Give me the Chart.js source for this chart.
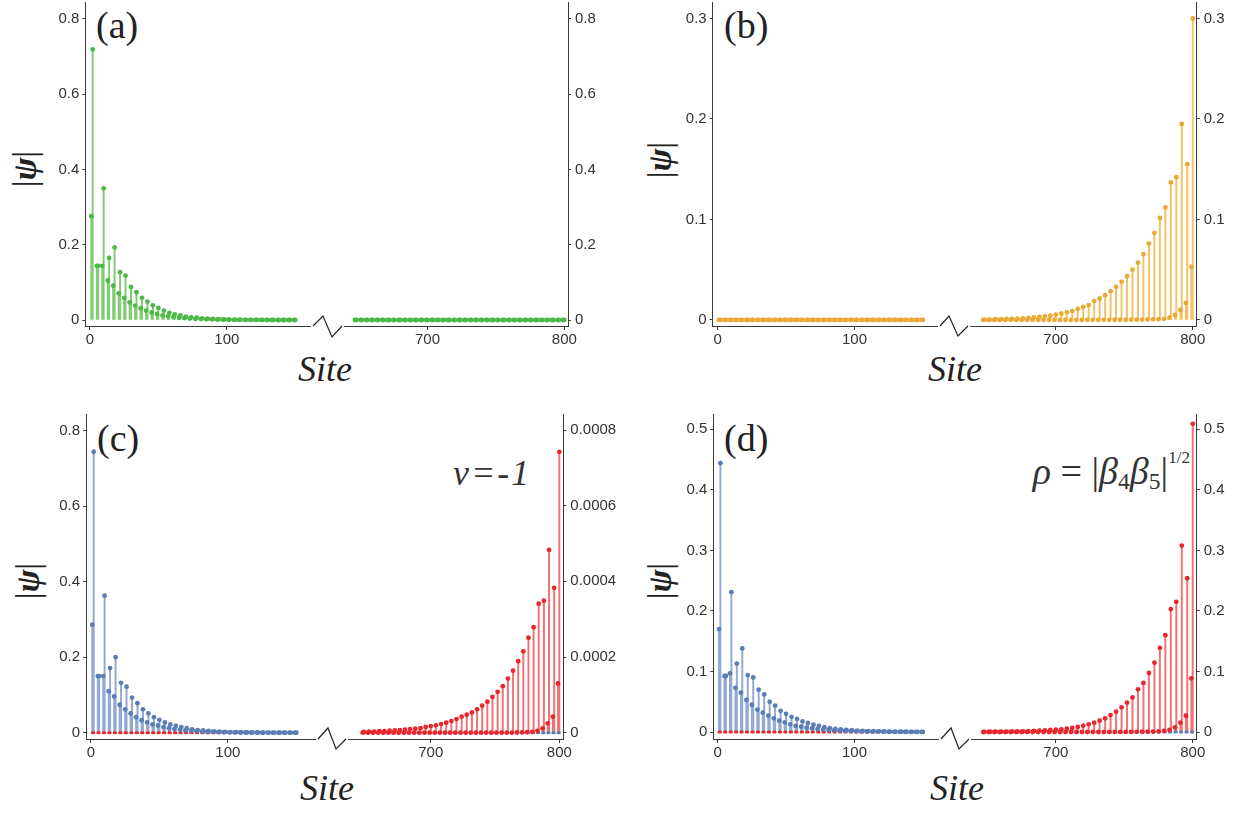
<!DOCTYPE html>
<html>
<head>
<meta charset="utf-8">
<script src="https://cdn.jsdelivr.net/npm/chart.js@4.4.0/dist/chart.umd.min.js"></script>
<style>
body { margin: 0; background: #fff; width: 1248px; height: 813px; position: relative; overflow: hidden; }
.box { position: absolute; }
.txt { position: absolute; font-family: "Liberation Serif", "DejaVu Serif", serif; color: #222; line-height: 1; white-space: nowrap; }
.tag { font-size: 38px; }
.site { font-size: 36px; font-style: italic; width: 120px; text-align: center; }
.psi { font-size: 34px; transform: translate(-50%, -50%) rotate(-90deg); }
.note { font-size: 34px; font-style: italic; color: #333; }
#breaks { position: absolute; left: 0; top: 0; }
</style>
</head>
<body>

<svg id="breaks" width="1248" height="813">
  <polyline points="313,326 323,316 332,337 342,326" fill="none" stroke="#222" stroke-width="1.2"/>
  <polyline points="940,326 949,316 958,336 968,326" fill="none" stroke="#222" stroke-width="1.2"/>
  <polyline points="318,739 328,728 336,749 346,739" fill="none" stroke="#222" stroke-width="1.2"/>
  <polyline points="941,739 951,728 959,749 969,739" fill="none" stroke="#222" stroke-width="1.2"/>
</svg>

<div class="txt tag" style="left:96px;top:6px">(a)</div>
<div class="txt tag" style="left:724px;top:6px">(b)</div>
<div class="txt tag" style="left:97px;top:419px">(c)</div>
<div class="txt tag" style="left:724px;top:419px">(d)</div>

<div class="txt psi" style="left:25px;top:169px">|<b><i>ψ</i></b>|</div>
<div class="txt psi" style="left:660px;top:160px">|<b><i>ψ</i></b>|</div>
<div class="txt psi" style="left:28px;top:581px">|<b><i>ψ</i></b>|</div>
<div class="txt psi" style="left:660px;top:581px">|<b><i>ψ</i></b>|</div>

<div class="txt site" style="left:265px;top:351px">Site</div>
<div class="txt site" style="left:895px;top:351px">Site</div>
<div class="txt site" style="left:267px;top:770px">Site</div>
<div class="txt site" style="left:897px;top:770px">Site</div>

<div class="txt note" style="left:453px;top:455px;font-size:36px;letter-spacing:2px">ν=-1</div>
<div class="txt note" style="right:58px;top:449px;font-size:38px"><i>ρ</i><span style="font-style:normal"> = |</span><i>β</i><span style="font-style:normal;font-size:0.62em;vertical-align:-0.25em">4</span><i>β</i><span style="font-style:normal;font-size:0.62em;vertical-align:-0.25em">5</span><span style="font-style:normal">|</span><span style="font-style:normal;font-size:0.45em;vertical-align:1.2em">1/2</span></div>

<script>
// sites shown on each side of the axis break
const leftSites = [1,2,5,6,9,10,13,14,17,18,21,22,25,26,29,30,33,34,37,38,41,42,45,46,49,50,53,54,57,58,61,62,65,66,69,70,73,74,
  77,78,81,82,85,86,89,90,93,94,97,98,101,102,105,106,109,110,113,114,117,118,121,122,125,126,129,130,133,134,137,138,141,142,145,146,149,150];
const rightSites = [647,648,651,652,655,656,659,660,663,664,667,668,671,672,675,676,679,680,683,684,687,688,691,692,695,696,699,700,
  703,704,707,708,711,712,715,716,719,720,723,724,727,728,731,732,735,736,739,740,743,744,747,748,751,752,755,756,759,760,763,764,
  767,768,771,772,775,776,779,780,783,784,787,788,791,792,795,796,799,800];

// series that sit on the baseline
const zerosLeft = [0,0,0,0,0,0,0,0,0,0,0,0,0,0,0,0,0,0,0,0,0,0,0,0,0,0,0,0,0,0,0,0,0,0,0,0,0,0,
  0,0,0,0,0,0,0,0,0,0,0,0,0,0,0,0,0,0,0,0,0,0,0,0,0,0,0,0,0,0,0,0,0,0,0,0,0,0];
const zerosRight = [0,0,0,0,0,0,0,0,0,0,0,0,0,0,0,0,0,0,0,0,0,0,0,0,0,0,0,0,0,0,0,0,0,0,0,0,0,0,0,
  0,0,0,0,0,0,0,0,0,0,0,0,0,0,0,0,0,0,0,0,0,0,0,0,0,0,0,0,0,0,0,0,0,0,0,0,0,0,0];

// (a) left edge state
const aLeft = [0.276,0.719, 0.144,0.144, 0.144,0.350, 0.105,0.165, 0.091,0.193, 0.071,0.127, 0.059,0.118, 0.047,0.088, 0.038,0.074, 0.031,0.059,
  0.025,0.049, 0.020,0.039, 0.016,0.032, 0.012,0.025, 0.010,0.019, 0.008,0.015, 0.006,0.012, 0.005,0.009, 0.004,0.007, 0.003,0.006,
  0.0025,0.0045, 0.002,0.0035, 0.0015,0.0028, 0.0012,0.0022, 0.001,0.0017, 0.0008,0.0013, 0.0006,0.001, 0.0005,0.0008, 0.0004,0.0006, 0.0003,0.0005,
  0.0002,0.0004, 0.0002,0.0003, 0.0001,0.0002, 0.0001,0.0002, 0.0001,0.0001, 0,0.0001, 0,0, 0,0];

// (b) right edge state
const bRight = [0,0.0004, 0,0.0004, 0,0.0007, 0,0.0007, 0,0.001, 0,0.001, 0,0.0013, 0,0.0016, 0,0.002, 0,0.0026,
  0,0.003, 0,0.0036, 0,0.0043, 0,0.0053, 0,0.0063, 0,0.0076, 0,0.0089, 0,0.0109, 0,0.0129, 0,0.0148,
  0.0001,0.0188, 0.0001,0.0214, 0.0001,0.0247, 0.0001,0.0287, 0.0002,0.033, 0.0002,0.038, 0.0002,0.0435, 0.0003,0.050, 0.0003,0.057, 0.0004,0.0656,
  0.0005,0.076, 0.0006,0.0867, 0.0008,0.1015, 0.001,0.112, 0.0023,0.137, 0.005,0.142, 0.010,0.195, 0.017,0.155, 0.053,0.300];

// (c) nu = -1
const cBlueLeft = [0.286,0.744, 0.150,0.150, 0.150,0.363, 0.110,0.171, 0.096,0.200, 0.074,0.132, 0.062,0.122, 0.051,0.093, 0.041,0.078, 0.033,0.062,
  0.027,0.051, 0.022,0.041, 0.019,0.034, 0.015,0.027, 0.012,0.022, 0.010,0.018, 0.008,0.015, 0.006,0.012, 0.005,0.009, 0.004,0.007,
  0.003,0.006, 0.0025,0.0045, 0.002,0.0035, 0.0015,0.0028, 0.0012,0.0022, 0.001,0.0017, 0.0008,0.0013, 0.0006,0.001, 0.0005,0.0008, 0.0004,0.0006,
  0.0003,0.0005, 0.0002,0.0004, 0.0002,0.0003, 0.0001,0.0002, 0.0001,0.0002, 0.0001,0.0001, 0,0.0001, 0,0];
const cRedRight = [0,2.0e-6, 0,2.5e-6, 0,3.0e-6, 0,4.0e-6, 0,4.4e-6, 0,5.3e-6, 0,6.2e-6, 0,7.0e-6, 0,8.0e-6, 0,9.7e-6,
  0,1.06e-5, 0,1.23e-5, 0,1.50e-5, 0,1.76e-5, 0,1.94e-5, 0,2.29e-5, 0,2.64e-5, 0,3.08e-5, 0,3.61e-5, 0,4.23e-5,
  0,4.76e-5, 0,5.37e-5, 0,6.17e-5, 0,7.14e-5, 0,8.2e-5, 0,9.43e-5, 0,1.08e-4, 0,1.23e-4, 0,1.43e-4, 0,1.64e-4,
  5e-7,1.89e-4, 1.0e-6,2.15e-4, 1.5e-6,2.51e-4, 2.0e-6,2.79e-4, 5.0e-6,3.41e-4, 1.15e-5,3.49e-4, 2.47e-5,4.83e-4, 4.23e-5,3.83e-4, 1.30e-4,7.42e-4];

// (d) rho = |b4 b5|^(1/2)
const dBlueLeft = [0.170,0.444, 0.0925,0.0925, 0.097,0.231, 0.073,0.113, 0.065,0.138, 0.053,0.094, 0.045,0.090, 0.037,0.070, 0.032,0.062, 0.027,0.050,
  0.0226,0.0435, 0.0187,0.035, 0.016,0.030, 0.0127,0.025, 0.010,0.0215, 0.0088,0.0176, 0.007,0.015, 0.006,0.012, 0.005,0.010, 0.004,0.008,
  0.0033,0.0065, 0.0027,0.0053, 0.0022,0.0043, 0.0018,0.0035, 0.0015,0.0029, 0.0012,0.0024, 0.001,0.002, 0.0008,0.0016, 0.0007,0.0013, 0.0006,0.0011,
  0.0005,0.0009, 0.0004,0.0007, 0.0003,0.0006, 0.0003,0.0005, 0.0002,0.0004, 0.0002,0.0003, 0.0001,0.0003, 0.0001,0.0002];
const dRedRight = [0,0.0003, 0,0.0004, 0,0.0005, 0,0.0006, 0,0.0007, 0,0.0009, 0,0.001, 0,0.0012, 0,0.0015, 0,0.0017,
  0,0.0022, 0,0.0028, 0,0.0033, 0,0.0039, 0,0.0044, 0,0.0055, 0,0.0066, 0,0.0083, 0,0.0105, 0,0.0127,
  0,0.0154, 0,0.0187, 0,0.0226, 0,0.028, 0,0.0336, 0.0001,0.0407, 0.0002,0.0485, 0.0002,0.057, 0.0003,0.0705, 0.0004,0.081,
  0.0005,0.0975, 0.0007,0.1145, 0.001,0.139, 0.0017,0.160, 0.0033,0.203, 0.0077,0.215, 0.0154,0.308, 0.027,0.254, 0.0887,0.509];

const xTicksLeft = [0, 100];
const xTicksRight = [700, 800];
const yTicksA = [0, 0.2, 0.4, 0.6, 0.8];
const yTicksB = [0, 0.1, 0.2, 0.3];
const yTicksC = [0, 0.2, 0.4, 0.6, 0.8];
const yTicksCRight = [0, 0.0002, 0.0004, 0.0006, 0.0008];
const yTicksD = [0, 0.1, 0.2, 0.3, 0.4, 0.5];

const GREEN = { dot: '#4cb848', stem: '#80cc73' };
const ORANGE = { dot: '#eaa834', stem: '#f2c264' };
const BLUE = { dot: '#5a7db5', stem: '#92a9d2' };
const RED = { dot: '#e8262c', stem: '#f07272' };

const axisColor = '#3a3a3a';
const tickFont = { family: '"Liberation Sans", Arial, sans-serif', size: 15 };

function noPad(s) {
    s.paddingTop = 0; s.paddingBottom = 0; s.paddingLeft = 0; s.paddingRight = 0;
}

function fmt(digits) {
    return v => (v === 0 ? '0' : v.toFixed(digits));
}

// one half of a broken-axis panel
function stemChart(box, opt) {
    const holder = document.createElement('div');
    holder.className = 'box';
    holder.style.left = box.x + 'px';
    holder.style.top = box.y + 'px';
    holder.style.width = box.w + 'px';
    holder.style.height = box.h + 'px';
    const cv = document.createElement('canvas');
    holder.appendChild(cv);
    document.body.appendChild(holder);

    const datasets = [];
    opt.series.forEach((s, i) => {
        const pts = s.xs.map((x, k) => ({ x: x, y: s.ys[k] }));
        if (s.stems) {
            datasets.push({
                type: 'bar', data: pts, backgroundColor: s.color.stem, borderWidth: 0,
                barThickness: 1.3, grouped: false, yAxisID: s.axis, order: 10 + i
            });
        }
        datasets.push({
            type: 'scatter', data: pts, backgroundColor: s.color.dot, borderWidth: 0,
            pointRadius: s.r || 2.4, pointHoverRadius: s.r || 2.4, yAxisID: s.axis, order: s.z
        });
    });

    const scales = {
        x: {
            type: 'linear', min: opt.x[0], max: opt.x[1], offset: false,
            afterBuildTicks: s => { s.ticks = opt.xTicks.map(v => ({ value: v })); },
            afterFit: s => { s.height = box.h - opt.bottom; noPad(s); },
            ticks: { color: '#333', font: tickFont, padding: 1, maxRotation: 0, autoSkip: false },
            grid: { drawOnChartArea: false, drawTicks: true, tickLength: 4, color: axisColor, offset: false },
            border: { color: axisColor, width: 1 }
        },
        y: {
            type: 'linear', position: opt.side, min: opt.y[0], max: opt.y[1],
            afterBuildTicks: s => { s.ticks = opt.yTicks.map(v => ({ value: v })); },
            afterFit: s => { s.width = opt.axisW; noPad(s); },
            ticks: { color: '#333', font: tickFont, padding: opt.side === 'left' ? 3 : 4, callback: fmt(opt.digits) },
            grid: { drawOnChartArea: false, drawTicks: true, tickLength: 3, color: axisColor },
            border: { color: axisColor, width: 1 }
        }
    };
    if (opt.y2) {
        scales.y2 = { type: 'linear', display: false, min: opt.y2[0], max: opt.y2[1] };
    }

    new Chart(cv, {
        type: 'bar',
        data: { datasets: datasets },
        options: {
            responsive: true, maintainAspectRatio: false, animation: false,
            devicePixelRatio: 1, events: [],
            layout: { padding: { top: opt.top, left: 0, right: 0, bottom: 0 } },
            plugins: { legend: { display: false }, tooltip: { enabled: false } },
            scales: scales
        }
    });
}

// (a)
stemChart({ x: 0, y: 0, w: 313, h: 360 }, {
    top: 2, bottom: 326, side: 'left', axisW: 85.3, x: [-3.4, 161.2], xTicks: xTicksLeft,
    y: [-0.0159, 0.844], yTicks: yTicksA, digits: 1,
    series: [{ xs: leftSites, ys: aLeft, color: GREEN, stems: true, axis: 'y', z: 1 }]
});
stemChart({ x: 342, y: 0, w: 282, h: 360 }, {
    top: 2, bottom: 326, side: 'right', axisW: 56, x: [639.3, 802.7], xTicks: xTicksRight,
    y: [-0.0159, 0.844], yTicks: yTicksA, digits: 1,
    series: [{ xs: rightSites, ys: zerosRight, color: GREEN, stems: false, axis: 'y', z: 1 }]
});

// (b)
stemChart({ x: 630, y: 0, w: 310, h: 360 }, {
    top: 2, bottom: 326, side: 'left', axisW: 82.7, x: [-3.6, 160.7], xTicks: xTicksLeft,
    y: [-0.006, 0.316], yTicks: yTicksB, digits: 1,
    series: [{ xs: leftSites, ys: zerosLeft, color: ORANGE, stems: false, axis: 'y', z: 1 }]
});
stemChart({ x: 968, y: 0, w: 280, h: 360 }, {
    top: 2, bottom: 326, side: 'right', axisW: 51.3, x: [637.6, 802.9], xTicks: xTicksRight,
    y: [-0.006, 0.316], yTicks: yTicksB, digits: 1,
    series: [{ xs: rightSites, ys: bRight, color: ORANGE, stems: true, axis: 'y', z: 1 }]
});

// (c)
stemChart({ x: 0, y: 400, w: 318, h: 370 }, {
    top: 14, bottom: 339, side: 'left', axisW: 86, x: [-3.6, 164.1], xTicks: xTicksLeft,
    y: [-0.0167, 0.844], yTicks: yTicksC, digits: 1, y2: [-1.665e-5, 8.423e-4],
    series: [
        { xs: leftSites, ys: cBlueLeft, color: BLUE, stems: true, axis: 'y', z: 1 },
        { xs: leftSites, ys: zerosLeft, color: RED, stems: false, axis: 'y2', z: 2, r: 1.5 }
    ]
});
stemChart({ x: 346, y: 400, w: 284, h: 370 }, {
    top: 14, bottom: 339, side: 'right', axisW: 66.7, x: [635.9, 803.1], xTicks: xTicksRight,
    y: [-1.665e-5, 8.423e-4], yTicks: yTicksCRight, digits: 4, y2: [-0.0167, 0.844],
    series: [
        { xs: rightSites, ys: cRedRight, color: RED, stems: true, axis: 'y', z: 1 },
        { xs: rightSites, ys: zerosRight, color: BLUE, stems: false, axis: 'y2', z: 2, r: 1.5 }
    ]
});

// (d)
stemChart({ x: 630, y: 400, w: 311, h: 370 }, {
    top: 14, bottom: 339, side: 'left', axisW: 83.3, x: [-3.2, 161.5], xTicks: xTicksLeft,
    y: [-0.01156, 0.5253], yTicks: yTicksD, digits: 1,
    series: [
        { xs: leftSites, ys: dBlueLeft, color: BLUE, stems: true, axis: 'y', z: 1 },
        { xs: leftSites, ys: zerosLeft, color: RED, stems: false, axis: 'y', z: 2, r: 1.5 }
    ]
});
stemChart({ x: 969, y: 400, w: 279, h: 370 }, {
    top: 14, bottom: 339, side: 'right', axisW: 51.3, x: [638.3, 802.9], xTicks: xTicksRight,
    y: [-0.01156, 0.5253], yTicks: yTicksD, digits: 1,
    series: [
        { xs: rightSites, ys: dRedRight, color: RED, stems: true, axis: 'y', z: 1 },
        { xs: rightSites, ys: zerosRight, color: BLUE, stems: false, axis: 'y', z: 2, r: 1.5 }
    ]
});
</script>
</body>
</html>
